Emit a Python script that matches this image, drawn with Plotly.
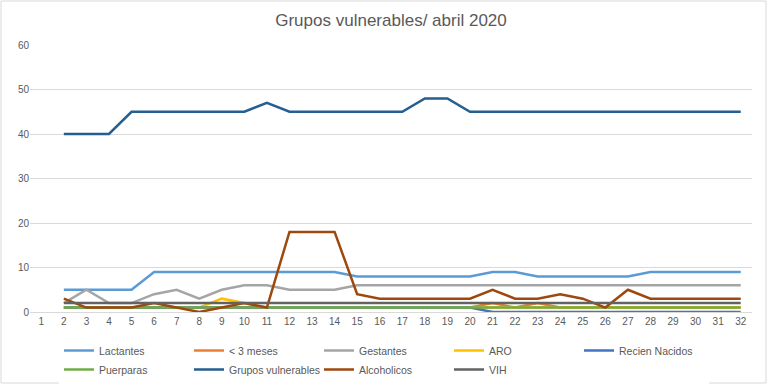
import plotly.graph_objects as go

days = [str(d) for d in range(1, 33)]
# values for days 2..32 (day 1 has no data)
lactantes = [5, 5, 5, 5, 9, 9, 9, 9, 9, 9, 9, 9, 9, 8, 8, 8, 8, 8, 8, 9, 9, 8, 8, 8, 8, 8, 9, 9, 9, 9, 9]
menores_3m = [1, 1, 1, 1, 1, 1, 1, 1, 1, 1, 1, 1, 1, 1, 1, 1, 1, 1, 1, 2, 1, 2, 1, 1, 1, 1, 1, 1, 1, 1, 1]
gestantes = [2, 5, 2, 2, 4, 5, 3, 5, 6, 6, 5, 5, 5, 6, 6, 6, 6, 6, 6, 6, 6, 6, 6, 6, 6, 6, 6, 6, 6, 6, 6]
aro = [1, 1, 1, 1, 1, 1, 1, 3, 2, 1, 1, 1, 1, 1, 1, 1, 1, 1, 1, 1, 1, 1, 1, 1, 1, 1, 1, 1, 1, 1, 1]
recien_nacidos = [1, 1, 1, 1, 1, 1, 1, 1, 1, 1, 1, 1, 1, 1, 1, 1, 1, 1, 1, 0, 0, 0, 0, 0, 0, 0, 0, 0, 0, 0, 0]
puerparas = [1] * 31
grupos_vulnerables = [40, 40, 40, 45, 45, 45, 45, 45, 45, 47, 45, 45, 45, 45, 45, 45, 48, 48, 45, 45, 45, 45, 45, 45, 45, 45, 45, 45, 45, 45, 45]
alcoholicos = [3, 1, 1, 1, 2, 1, 0, 1, 2, 1, 18, 18, 18, 4, 3, 3, 3, 3, 3, 5, 3, 3, 4, 3, 1, 5, 3, 3, 3, 3, 3]
vih = [2] * 31

series = [
    ("Lactantes", lactantes, "#5B9BD5"),
    ("< 3 meses", menores_3m, "#ED7D31"),
    ("Gestantes", gestantes, "#A5A5A5"),
    ("ARO", aro, "#FFC000"),
    ("Recien Nacidos", recien_nacidos, "#4472C4"),
    ("Puerparas", puerparas, "#70AD47"),
    ("Grupos vulnerables", grupos_vulnerables, "#255E91"),
    ("Alcoholicos", alcoholicos, "#9E480E"),
    ("VIH", vih, "#636363"),
]

fig = go.Figure()
for name, vals, color in series:
    fig.add_trace(go.Scatter(
        x=days[1:], y=vals, name=name, mode="lines",
        line=dict(color=color, width=2.5),
    ))

W, H = 768, 385
ml, mr, mt, mb = 30, 16, 45, 73
pw, ph = W - ml - mr, H - mt - mb

fig.update_layout(
    width=W, height=H,
    margin=dict(l=ml, r=mr, t=mt, b=mb, autoexpand=False),
    paper_bgcolor="white", plot_bgcolor="white",
    font=dict(family="Liberation Sans", size=10, color="#595959"),
    title=dict(text="Grupos vulnerables/ abril 2020", x=0.5, xref="paper", y=1 - 20 / H,
               yanchor="middle", font=dict(size=17, color="#595959")),
    xaxis=dict(type="category", categoryorder="array", categoryarray=days,
               range=[-0.5, 31.5], showgrid=False, showline=True, linecolor="#D9D9D9",
               ticks="", tickfont=dict(size=10, color="#595959"), fixedrange=True),
    yaxis=dict(range=[0, 60], dtick=10, showgrid=True, gridcolor="#D9D9D9", gridwidth=1,
               zeroline=False, ticks="", tickfont=dict(size=10, color="#595959")),
    legend=dict(orientation="h", xref="container", x=59 / W, xanchor="left",
                yref="container", y=1 - 336 / H, yanchor="top",
                entrywidth=85, entrywidthmode="pixels", font=dict(size=10.5, color="#595959"),
                tracegroupgap=0, itemwidth=30),
    showlegend=True,
    shapes=[dict(type="rect", xref="paper", yref="paper",
                 x0=(1 - ml) / pw, x1=(766 - ml) / pw,
                 y0=-(H - 2 - mt - ph) / ph, y1=1 + (mt - 1) / ph,
                 line=dict(color="#D9D9D9", width=1), fillcolor="rgba(0,0,0,0)", layer="below")],
)

fig.write_html("out.html", config={"displayModeBar": False},
               post_script="document.body.style.margin='0';document.body.style.overflow='hidden';")
